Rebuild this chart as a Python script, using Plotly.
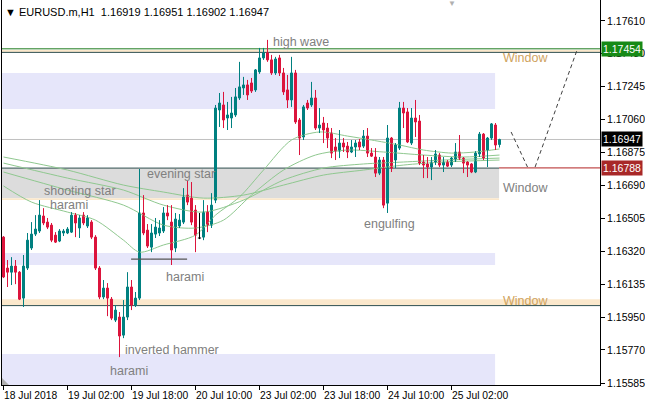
import plotly.graph_objects as go

# ---------------- data ----------------
symbol = "EURUSD.m,H1"
opens = [1.16401, 1.16228, 1.16205, 1.16239, 1.16205, 1.16060, 1.16228, 1.16340, 1.16418, 1.16435,
         1.16519, 1.16485, 1.16468, 1.16412, 1.16379, 1.16424, 1.16424, 1.16429, 1.16524, 1.16452,
         1.16524, 1.16463, 1.16485, 1.16401, 1.16228, 1.16066, 1.16116, 1.16054, 1.15937, 1.15954,
         1.15853, 1.15954, 1.16122, 1.16021, 1.16060, 1.16536, 1.16440, 1.16345, 1.16418, 1.16424,
         1.16435, 1.16536, 1.16485, 1.16340, 1.16463, 1.16485, 1.16636, 1.16619, 1.16552, 1.16396,
         1.16401, 1.16541, 1.16468, 1.16608, 1.17112, 1.17140, 1.17067, 1.17067, 1.17084, 1.17179,
         1.17235, 1.17252, 1.17263, 1.17224, 1.17325, 1.17403, 1.17431, 1.17392, 1.17319, 1.17403,
         1.17319, 1.17224, 1.17168, 1.17319, 1.17056, 1.16961, 1.17151, 1.17140, 1.17179, 1.17011,
         1.17039, 1.17011, 1.16983, 1.16905, 1.16882, 1.16927, 1.16910, 1.16877, 1.16905, 1.16933,
         1.16910, 1.16966, 1.16871, 1.16849, 1.16759, 1.16832, 1.16591, 1.16955, 1.16832, 1.16899,
         1.17123, 1.17101, 1.16927, 1.17067, 1.17050, 1.16821, 1.16810, 1.16793, 1.16821, 1.16860,
         1.16804, 1.16821, 1.16804, 1.16832, 1.16877, 1.16843, 1.16821, 1.16810, 1.16765, 1.16866,
         1.16977, 1.16888, 1.16955, 1.17028, 1.16919]
highs = [1.16407, 1.16273, 1.16289, 1.16273, 1.16211, 1.16301, 1.16424, 1.16485, 1.16524, 1.16608,
         1.16563, 1.16508, 1.16480, 1.16429, 1.16446, 1.16446, 1.16457, 1.16541, 1.16536, 1.16524,
         1.16541, 1.16524, 1.16496, 1.16412, 1.16239, 1.16161, 1.16144, 1.16066, 1.16021, 1.15982,
         1.16049, 1.16205, 1.16161, 1.16094, 1.16782, 1.16636, 1.16474, 1.16474, 1.16508, 1.16496,
         1.16569, 1.16580, 1.16580, 1.16536, 1.16530, 1.16675, 1.16715, 1.16709, 1.16580, 1.16536,
         1.16608, 1.16580, 1.16647, 1.17140, 1.17207, 1.17213, 1.17157, 1.17185, 1.17235, 1.17381,
         1.17297, 1.17280, 1.17291, 1.17341, 1.17459, 1.17459, 1.17504, 1.17420, 1.17409, 1.17420,
         1.17347, 1.17308, 1.17409, 1.17336, 1.17067, 1.17140, 1.17168, 1.17269, 1.17224, 1.17123,
         1.17073, 1.17039, 1.17011, 1.16955, 1.17000, 1.16955, 1.16933, 1.16944, 1.16944, 1.16950,
         1.17000, 1.17011, 1.16899, 1.16899, 1.16849, 1.16849, 1.17028, 1.16961, 1.16927, 1.17157,
         1.17157, 1.17123, 1.17123, 1.17168, 1.17084, 1.16860, 1.16849, 1.16849, 1.16888, 1.16871,
         1.16849, 1.16832, 1.16849, 1.16927, 1.16972, 1.16849, 1.16826, 1.16815, 1.16882, 1.16989,
         1.16983, 1.16961, 1.17039, 1.17039, 1.16951]
lows = [1.16172, 1.16122, 1.16133, 1.16138, 1.16049, 1.16010, 1.16217, 1.16329, 1.16407, 1.16424,
        1.16468, 1.16446, 1.16373, 1.16368, 1.16373, 1.16407, 1.16418, 1.16424, 1.16401, 1.16396,
        1.16468, 1.16452, 1.16390, 1.16217, 1.16054, 1.16054, 1.15959, 1.15937, 1.15926, 1.15730,
        1.15836, 1.15937, 1.15993, 1.16010, 1.16049, 1.16412, 1.16340, 1.16317, 1.16396, 1.16407,
        1.16424, 1.16496, 1.16245, 1.16317, 1.16452, 1.16474, 1.16580, 1.16468, 1.16317, 1.16390,
        1.16384, 1.16429, 1.16452, 1.16591, 1.17017, 1.17011, 1.17000, 1.17011, 1.17073, 1.17168,
        1.17196, 1.17168, 1.17207, 1.17213, 1.17314, 1.17392, 1.17381, 1.17308, 1.17308, 1.17302,
        1.17196, 1.17123, 1.17129, 1.17034, 1.16860, 1.16944, 1.17112, 1.17129, 1.17000, 1.16983,
        1.16927, 1.16899, 1.16843, 1.16832, 1.16843, 1.16877, 1.16843, 1.16871, 1.16849, 1.16888,
        1.16899, 1.16849, 1.16849, 1.16737, 1.16748, 1.16563, 1.16536, 1.16765, 1.16787, 1.16888,
        1.17011, 1.16927, 1.16916, 1.16961, 1.16804, 1.16731, 1.16731, 1.16720, 1.16804, 1.16793,
        1.16765, 1.16793, 1.16793, 1.16821, 1.16832, 1.16759, 1.16737, 1.16759, 1.16759, 1.16849,
        1.16832, 1.16793, 1.16944, 1.16888, 1.16902]
closes = [1.16178, 1.16205, 1.16239, 1.16205, 1.16054, 1.16239, 1.16384, 1.16418, 1.16446, 1.16524,
          1.16480, 1.16457, 1.16384, 1.16373, 1.16435, 1.16435, 1.16446, 1.16524, 1.16480, 1.16508,
          1.16480, 1.16508, 1.16401, 1.16228, 1.16066, 1.16116, 1.16060, 1.15948, 1.15993, 1.15848,
          1.15954, 1.16122, 1.16021, 1.16060, 1.16536, 1.16424, 1.16351, 1.16424, 1.16457, 1.16452,
          1.16536, 1.16519, 1.16329, 1.16502, 1.16496, 1.16625, 1.16597, 1.16485, 1.16412, 1.16396,
          1.16541, 1.16468, 1.16580, 1.17123, 1.17151, 1.17056, 1.17084, 1.17095, 1.17185, 1.17241,
          1.17252, 1.17196, 1.17218, 1.17336, 1.17403, 1.17431, 1.17392, 1.17319, 1.17397, 1.17319,
          1.17213, 1.17168, 1.17319, 1.17045, 1.16955, 1.17129, 1.17123, 1.17179, 1.17011, 1.17028,
          1.17000, 1.16955, 1.16871, 1.16882, 1.16927, 1.16905, 1.16877, 1.16905, 1.16927, 1.16905,
          1.16966, 1.16871, 1.16854, 1.16759, 1.16832, 1.16580, 1.16955, 1.16787, 1.16916, 1.17123,
          1.17095, 1.16933, 1.17067, 1.17045, 1.16815, 1.16804, 1.16793, 1.16821, 1.16866, 1.16804,
          1.16821, 1.16798, 1.16843, 1.16877, 1.16843, 1.16815, 1.16804, 1.16765, 1.16871, 1.16977,
          1.16843, 1.16955, 1.17034, 1.16916, 1.16947]

time_tick_bars = [0, 16, 32, 48, 64, 80, 96, 112]
time_tick_labels = ["18 Jul 2018", "19 Jul 02:00", "19 Jul 18:00", "20 Jul 10:00",
                    "23 Jul 02:00", "23 Jul 18:00", "24 Jul 10:00", "25 Jul 02:00"]
price_ticks = [1.17610, 1.17430, 1.17245, 1.17060, 1.16875, 1.16690, 1.16505,
               1.16320, 1.16135, 1.15950, 1.15770, 1.15585]

# moving averages (read at sample bars)
ma1_bars = [0, 7, 16, 23, 30, 34, 40, 48, 53, 59, 65, 72, 79, 86, 92, 99, 105, 112, 118, 124]
ma1_vals = [1.16687, 1.16597, 1.16541, 1.16496, 1.16384, 1.16317, 1.16357, 1.16412, 1.16524, 1.16625,
            1.16776, 1.16944, 1.16989, 1.16966, 1.16944, 1.16916, 1.16888, 1.16871, 1.16877, 1.16894]
ma2_bars = [0, 16, 30, 40, 48, 55, 62, 70, 78, 86, 95, 105, 115, 124]
ma2_vals = [1.16765, 1.16664, 1.16580, 1.16468, 1.16452, 1.16496, 1.16636, 1.16776, 1.16860, 1.16888,
            1.16877, 1.16860, 1.16849, 1.16860]
ma3_bars = [0, 16, 30, 40, 50, 60, 70, 80, 90, 100, 110, 124]
ma3_vals = [1.16815, 1.16731, 1.16664, 1.16580, 1.16541, 1.16608, 1.16720, 1.16787, 1.16810, 1.16821,
            1.16832, 1.16843]
ma4_bars = [0, 16, 30, 40, 50, 60, 70, 80, 90, 100, 110, 124]
ma4_vals = [1.16849, 1.16776, 1.16692, 1.16653, 1.16619, 1.16636, 1.16692, 1.16748, 1.16776, 1.16804,
            1.16821, 1.16832]

# levels / zones (prices)
bid_price = 1.16947
green_level = 1.17454
red_level = 1.16788
lavender_zones = [(1.17319, 1.17117), (1.16312, 1.16245), (1.15747, 1.15560)]
gray_zone = (1.16787, 1.16619)
beige_zones = [(1.16619, 1.16608), (1.16054, 1.16021), (1.17448, 1.17436)]
dark_levels = [1.16787, 1.16018, 1.17434]
harami_marker = (31.9, 45.9, 1.16278)
projection_a = [(126.9, 1.16989), (131.0, 1.16793)]
projection_b = [(132.9, 1.16793), (143.4, 1.17448)]

# ---------------- figure ----------------
BULL = "#008080"
BEAR = "#dc143c"
n = len(opens)
idx = list(range(n))
XMIN, XMAX = -0.375, 149.125
YMIN, YMAX = 1.15574, 1.17727
zone_end = 123.9
lav_end = 122.9

fig = go.Figure()

# zones
for top, bot in lavender_zones:
    fig.add_shape(type="rect", x0=XMIN, x1=lav_end, y0=bot, y1=top, fillcolor="#e6e6fa",
                  line_width=0, layer="below")
fig.add_shape(type="rect", x0=XMIN, x1=zone_end, y0=gray_zone[1], y1=gray_zone[0],
              fillcolor="#dcdcdc", line_width=0, layer="below")
fig.add_shape(type="rect", x0=XMIN, x1=zone_end, y0=beige_zones[0][1], y1=beige_zones[0][0],
              fillcolor="#fbe8cc", line_width=0, layer="below")
for top, bot in beige_zones[1:]:
    fig.add_shape(type="rect", x0=XMIN, x1=XMAX, y0=bot, y1=top, fillcolor="#fbe8cc",
                  line_width=0, layer="below")
fig.add_shape(type="line", x0=XMIN, x1=XMAX, y0=bid_price, y1=bid_price,
              line=dict(color="#c0c0c0", width=1), layer="below")
fig.add_shape(type="line", x0=XMIN, x1=zone_end, y0=dark_levels[0], y1=dark_levels[0],
              line=dict(color="#2f4f4f", width=1), layer="below")
for lv in dark_levels[1:]:
    fig.add_shape(type="line", x0=XMIN, x1=XMAX, y0=lv, y1=lv,
                  line=dict(color="#2f4f4f", width=1), layer="below")
fig.add_shape(type="line", x0=XMIN, x1=XMAX, y0=green_level, y1=green_level,
              line=dict(color="#1e7b1e", width=1), layer="below")
fig.add_shape(type="line", x0=zone_end, x1=XMAX, y0=red_level, y1=red_level,
              line=dict(color="#b22222", width=1), layer="below")

# moving averages
for bx, vals in [(ma4_bars, ma4_vals), (ma3_bars, ma3_vals), (ma2_bars, ma2_vals), (ma1_bars, ma1_vals)]:
    fig.add_trace(go.Scatter(x=bx, y=vals, mode="lines", line=dict(color="#8fc88f", width=1,
                  shape="spline", smoothing=0.8), hoverinfo="skip", showlegend=False))

# wicks
def wick_xy(sel):
    xs, ys = [], []
    for i in sel:
        xs += [i, i, None]
        ys += [lows[i], highs[i], None]
    return xs, ys

bull_i = [i for i in idx if closes[i] > opens[i]]
bear_i = [i for i in idx if closes[i] < opens[i]]
doji_i = [i for i in idx if closes[i] == opens[i]]
for sel, col in [(bull_i, BULL), (bear_i, BEAR), (doji_i, "#000000")]:
    xs, ys = wick_xy(sel)
    fig.add_trace(go.Scatter(x=xs, y=ys, mode="lines", line=dict(color=col, width=1),
                             hoverinfo="skip", showlegend=False))

# bodies
for sel, col in [(bull_i, BULL), (bear_i, BEAR)]:
    fig.add_trace(go.Bar(x=sel, base=[min(opens[i], closes[i]) for i in sel],
                         y=[abs(closes[i] - opens[i]) for i in sel], width=0.5,
                         marker=dict(color=col, line=dict(color=col, width=1)),
                         hoverinfo="skip", showlegend=False))
dx, dy = [], []
for i in doji_i:
    dx += [i - 0.4, i + 0.4, None]
    dy += [opens[i], closes[i], None]
fig.add_trace(go.Scatter(x=dx, y=dy, mode="lines", line=dict(color="#000000", width=1),
                         hoverinfo="skip", showlegend=False))

# harami marker and projection
fig.add_trace(go.Scatter(x=[harami_marker[0], harami_marker[1]], y=[harami_marker[2]] * 2,
                         mode="lines", line=dict(color="#555555", width=1.2),
                         hoverinfo="skip", showlegend=False))
for seg in (projection_a, projection_b):
    fig.add_trace(go.Scatter(x=[p[0] for p in seg], y=[p[1] for p in seg], mode="lines",
                             line=dict(color="#404040", width=1, dash="4px,3px"),
                             hoverinfo="skip", showlegend=False))

# ---------------- annotations ----------------
FONT = "Liberation Sans, Arial, sans-serif"

def ax(px):
    return (px - 2) / 598.0

def ay(py):
    return 1 - py / 385.0

ann = []
pattern_labels = [("high wave", 271, 42), ("evening star", 145, 174), ("shooting star", 42, 191),
                  ("harami", 48, 205), ("harami", 164, 277), ("engulfing", 362, 224),
                  ("inverted hammer", 123, 350), ("harami", 108, 371)]
for t, px, py in pattern_labels:
    ann.append(dict(text=t, x=ax(px), y=ay(py), xref="paper", yref="paper", xanchor="left",
                    yanchor="middle", showarrow=False,
                    font=dict(family=FONT, size=12.5, color="#808080")))
for py, col in [(58, "#cfa35e"), (188, "#808080"), (301, "#cfa35e")]:
    ann.append(dict(text="Window", x=ax(501), y=ay(py), xref="paper", yref="paper",
                    xanchor="left", yanchor="middle", showarrow=False,
                    font=dict(family=FONT, size=12.5, color=col)))

header = "▼ %s  %.5f %.5f %.5f %.5f" % (symbol, opens[-1], highs[-1], lows[-1], closes[-1])
ann.append(dict(text=header, x=ax(3), y=ay(12), xref="paper", yref="paper", xanchor="left",
                yanchor="middle", showarrow=False, font=dict(family=FONT, size=11, color="#000000")))
ann.append(dict(text="▼", x=ax(452), y=ay(3), xref="paper", yref="paper", xanchor="center",
                yanchor="middle", showarrow=False, font=dict(family=FONT, size=8, color="#b0b0b0")))

for b, lab in zip(time_tick_bars, time_tick_labels):
    ann.append(dict(text=lab, x=b, y=ay(396), xref="x", yref="paper", xanchor="left",
                    yanchor="middle", xshift=-2, showarrow=False,
                    font=dict(family=FONT, size=10.3, color="#000000")))

for price, bg in [(green_level, "#168a16"), (bid_price, "#000000"), (red_level, "#a82828")]:
    ann.append(dict(text="%.5f" % price, x=1, y=price, xref="paper", yref="y", xanchor="left",
                    yanchor="middle", xshift=1, showarrow=False, bgcolor=bg, borderpad=1,
                    font=dict(family=FONT, size=10.5, color="#ffffff")))

fig.add_shape(type="path", xref="paper", yref="paper",
              path="M %f %f L %f %f L %f %f Z" % (ax(2), ay(378), ax(2), ay(385), ax(9), ay(385)),
              fillcolor="#b0b0b0", line_width=0)

fig.update_layout(
    width=645, height=408,
    margin=dict(l=2, r=45, t=0, b=23, autoexpand=False),
    paper_bgcolor="white", plot_bgcolor="white",
    showlegend=False, barmode="overlay", annotations=ann,
    xaxis=dict(range=[XMIN, XMAX], showgrid=False, zeroline=False, showline=True,
               linecolor="#000000", linewidth=1, mirror=True, tickmode="array",
               tickvals=time_tick_bars, ticktext=[""] * len(time_tick_bars),
               ticks="outside", ticklen=4, tickcolor="#000000", showticklabels=False,
               automargin=False),
    yaxis=dict(range=[YMIN, YMAX], side="right", showgrid=False, zeroline=False, showline=True,
               linecolor="#000000", linewidth=1, mirror=True, tickmode="array",
               tickvals=price_ticks, ticktext=["%.5f" % p for p in price_ticks],
               ticks="outside", ticklen=4, tickcolor="#000000", automargin=False,
               tickfont=dict(family=FONT, size=10.5, color="#000000")),
)

fig.write_html("out.html", config={"displayModeBar": False},
               post_script="document.body.style.margin='0px';document.body.style.overflow='hidden';")
